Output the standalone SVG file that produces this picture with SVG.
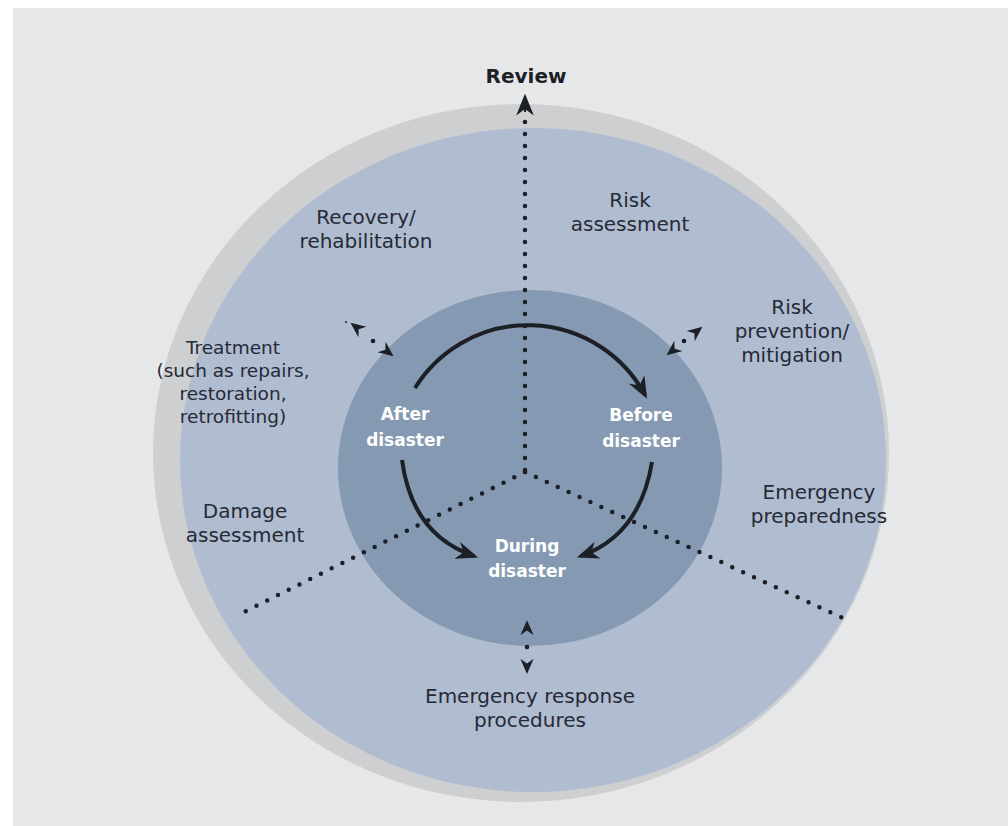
<svg xmlns="http://www.w3.org/2000/svg" width="1008" height="826" viewBox="0 0 1008 826">
<style>
.lbl{font-family:"DejaVu Sans","Open Sans","Liberation Sans",sans-serif;font-size:20px;fill:#262a36;text-anchor:middle}
.tr{font-size:18.5px}
.in{font-family:"DejaVu Sans","Open Sans","Liberation Sans",sans-serif;font-size:17px;font-weight:bold;fill:#ffffff;text-anchor:middle}
.dot{fill:none;stroke:#1c1f26;stroke-width:4.5;stroke-linecap:round;stroke-dasharray:0 12}
.arc{fill:none;stroke:#1c1f26;stroke-width:4}
.sm{fill:none;stroke:#1c1f26;stroke-width:2;stroke-dasharray:0 100}
</style>
<defs>
<marker id="ah" viewBox="0 0 20 16" refX="16" refY="8" markerWidth="22" markerHeight="18" markerUnits="userSpaceOnUse" orient="auto">
<path d="M0,0 L20,8 L0,16 L6,8 Z" fill="#1c1f26"/>
</marker>
<marker id="sh" viewBox="0 0 16 14" refX="14" refY="7" markerWidth="15" markerHeight="14" markerUnits="userSpaceOnUse" orient="auto-start-reverse">
<path d="M0,0 L16,7 L0,14 L5,7 Z" fill="#1c1f26"/>
</marker>
</defs>
<rect x="0" y="0" width="1008" height="826" fill="#ffffff"/>
<rect x="13" y="8" width="995" height="818" fill="#e6e7e9"/>
<g id="outer-ring">
<ellipse cx="521" cy="453" rx="368" ry="349" fill="#cecfd1"/>
<ellipse cx="533" cy="460" rx="353" ry="332" fill="#b0bcd0"/>
</g>
<g id="inner-circle">
<ellipse cx="530" cy="468" rx="192" ry="178" fill="#8599b2"/>
</g>
<g id="connectors">
<path class="dot" d="M525,470 L525,112"/>
<path d="M525,112 L525,98" stroke="#1c1f26" stroke-width="2" marker-end="url(#ah)"/>
<path class="dot" d="M525,472 L238,615"/>
<path class="dot" d="M525,472 L843,618"/>
<path class="arc" d="M415,388 A133,133 0 0 1 645,395" marker-end="url(#ah)"/>
<path class="arc" d="M402,460 Q412,535 474,556" marker-end="url(#ah)"/>
<path class="arc" d="M652,462 Q640,535 581,556" marker-end="url(#ah)"/>
<path class="sm" d="M352,324 L392,355" marker-start="url(#sh)" marker-end="url(#sh)"/>
<circle cx="373" cy="341" r="2.3" fill="#1c1f26"/>
<circle cx="346" cy="322" r="1" fill="#1c1f26"/>
<path class="sm" d="M668,354 L701,328" marker-start="url(#sh)" marker-end="url(#sh)"/>
<circle cx="684" cy="341" r="2.3" fill="#1c1f26"/>
<path class="sm" d="M527,622 L527,672" marker-start="url(#sh)" marker-end="url(#sh)"/>
<circle cx="527" cy="647" r="2.3" fill="#1c1f26"/>
</g>
<g id="review"><text x="526" y="83" class="lbl" style="font-weight:bold;font-size:20px;fill:#1c1f26">Review</text></g>
<g id="risk-assessment"><text class="lbl" x="630" y="207">Risk<tspan x="630" dy="24">assessment</tspan></text></g>
<g id="recovery"><text class="lbl" x="366" y="224">Recovery/<tspan x="366" dy="24">rehabilitation</tspan></text></g>
<g id="risk-prevention"><text class="lbl" x="792" y="314">Risk<tspan x="792" dy="24">prevention/</tspan><tspan x="792" dy="24">mitigation</tspan></text></g>
<g id="treatment"><text class="lbl tr" x="233" y="354">Treatment<tspan x="233" dy="23">(such as repairs,</tspan><tspan x="233" dy="23">restoration,</tspan><tspan x="233" dy="23">retrofitting)</tspan></text></g>
<g id="damage"><text class="lbl" x="245" y="518">Damage<tspan x="245" dy="24">assessment</tspan></text></g>
<g id="preparedness"><text class="lbl" x="819" y="499">Emergency<tspan x="819" dy="24">preparedness</tspan></text></g>
<g id="response"><text class="lbl" x="530" y="703">Emergency response<tspan x="530" dy="24">procedures</tspan></text></g>
<g id="after"><text class="in" x="405" y="420">After<tspan x="405" dy="26">disaster</tspan></text></g>
<g id="before"><text class="in" x="641" y="421">Before<tspan x="641" dy="26">disaster</tspan></text></g>
<g id="during"><text class="in" x="527" y="552">During<tspan x="527" dy="25">disaster</tspan></text></g>
</svg>
